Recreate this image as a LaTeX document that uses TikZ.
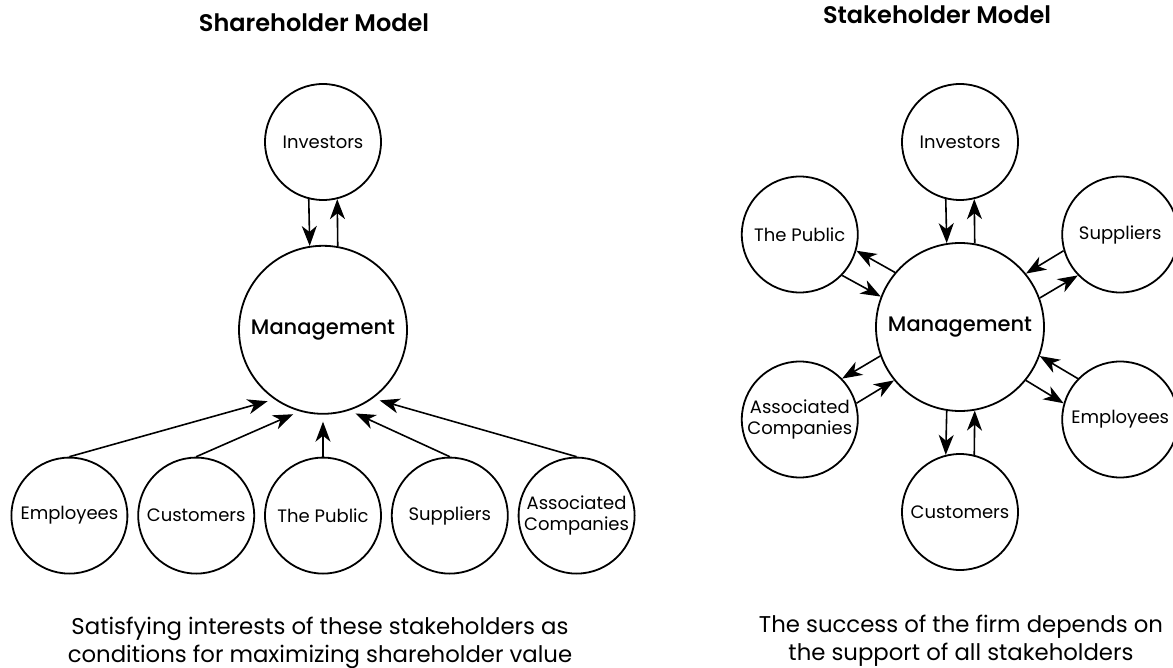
\documentclass[tikz,border=0pt]{standalone}
\usepackage{fontspec}
\setmainfont{Poppins}
\newfontfamily\headfont{Poppins SemiBold}
\newfontfamily\midfont{Poppins Medium}
\usetikzlibrary{positioning,arrows.meta,calc}

\begin{document}
\begin{tikzpicture}[x=0.5pt,y=0.5pt]
\tikzset{
  party/.style={
         circle,
         draw=black, line width=0.9pt,
         minimum size=58pt,
         inner sep=0pt,
         align=center,
         font=\fontsize{9}{10.5}\selectfont,
         },
  core/.style={party, minimum size=84pt, font=\midfont\fontsize{10.5}{12}\selectfont},
  flow/.style={line width=0.8pt, -{Stealth[length=10pt,width=7.5pt,inset=3pt]}},
  heading/.style={font=\headfont\fontsize{12}{14}\selectfont},
  remark/.style={align=center, font=\fontsize{11.4}{14}\selectfont},
}
\useasboundingbox (0,0) rectangle (1173,-668);

% shareholder model
\node[heading] (ltitle) at (314,-23) {Shareholder Model};

\node[party] (linv) at (323,-142) {Investors};
\node[core, below=22pt of linv] (lmgmt) {Management};

\node[party, below=21pt of lmgmt] (lpub) {The Public};
\node[party, left=4.5pt of lpub] (lcus) {Customers};
\node[party, left=4.5pt of lcus] (lemp) {Employees};
\node[party, right=4.5pt of lpub] (lsup) {Suppliers};
\node[party, right=4.5pt of lsup] (lass) {Associated\\Companies};

\draw[flow] (linv.256) -- (lmgmt.99.6);
\draw[flow] (lmgmt.80.4) -- (linv.284);

\foreach \nm/\ang in {lemp/235, lcus/254, lpub/270, lsup/288, lass/306}
  \draw[flow, shorten >=3.5pt] (\nm.north) -- (lmgmt.\ang);

\node[remark] (lnote) at (320,-643)
  {Satisfying interests of these stakeholders as\\conditions for maximizing shareholder value};

% stakeholder model
\node[heading] (rtitle) at (937,-15) {Stakeholder Model};

\node[core] (rmgmt) at (960,-327) {Management};

\foreach \ang/\nm/\txt in {90/rinv/Investors, 30/rsup/Suppliers,
    -30/remp/Employees, -90/rcus/Customers,
    210/rass/{Associated\\Companies}, 150/rpub/The Public}
  \node[party] (\nm) at ($(rmgmt)+(\ang:185)$) {\txt};

% one arrow out, one arrow back
\foreach \ang/\nm in {90/rinv, 30/rsup, -30/remp, -90/rcus, 210/rass, 150/rpub} {
  \pgfmathsetmacro\outa{\ang-9.6}
  \pgfmathsetmacro\outb{\ang+194}
  \pgfmathsetmacro\ina{\ang+166}
  \pgfmathsetmacro\inb{\ang+9.6}
  \draw[flow] (rmgmt.\outa) -- (\nm.\outb);
  \draw[flow] (\nm.\ina) -- (rmgmt.\inb);
}

\node[remark] (rnote) at (961,-641)
  {The success of the firm depends on\\the support of all stakeholders};

\end{tikzpicture}
\end{document}
